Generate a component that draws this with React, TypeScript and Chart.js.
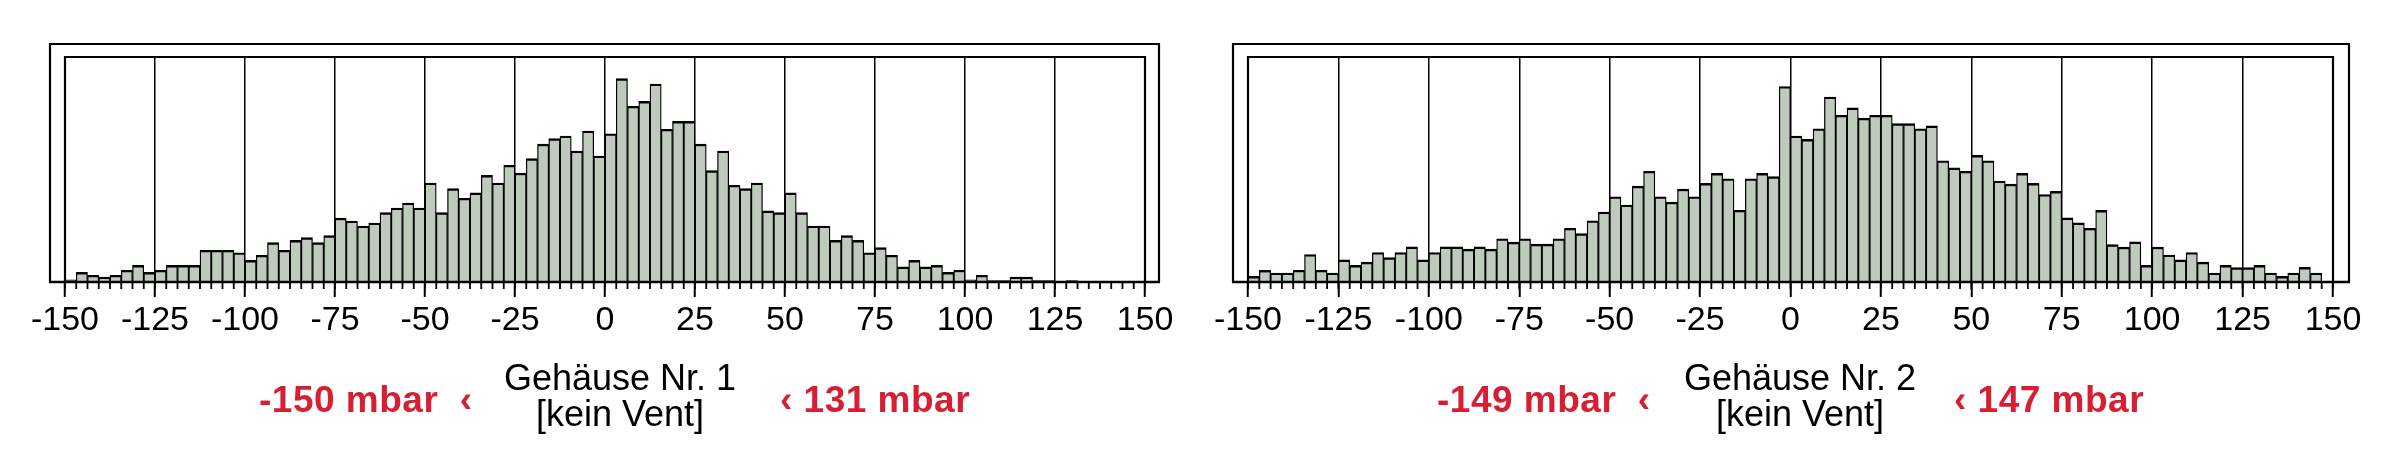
import React, { useEffect, useRef } from "react";
import { Chart, registerables } from "chart.js";

Chart.register(...registerables);

// ---- data -------------------------------------------------------------
const BIN_START = -150; // mbar, left edge of first bin
const BIN_WIDTH = 3.125; // mbar per histogram bin
const X_MIN = -150;
const X_MAX = 150;
const TICK_STEP = 25;
const TICK_LABELS = ["-150", "-125", "-100", "-75", "-50", "-25", "0", "25", "50", "75", "100", "125", "150"];

// relative frequency per bin (plot height = 100)
const counts1 = [
  1, 4.3, 3, 2.2, 3, 5.2, 7.4, 4.3, 5.2, 7.4, 7.4, 7.4, 14.1, 14.1, 14.1, 13,
  9.6, 11.9, 17.5, 14.1, 18.5, 19.7, 17.5, 20.6, 28.4, 27.1, 24.9, 26.2, 30.8, 32.9, 35.1, 32.9,
  44, 30.8, 41.5, 37.2, 39.6, 47.4, 44, 51.9, 48.4, 54.8, 61.3, 63.7, 64.9, 58.2, 67.1, 56,
  65.9, 90.4, 78.1, 80.3, 88, 67.9, 71.4, 71.4, 61.3, 49.5, 58.2, 43, 41.5, 44, 31.6, 30.8,
  39.6, 30.8, 24.9, 24.9, 18.5, 20.6, 18.5, 13, 15.3, 11.9, 6.7, 9.6, 6.7, 7.4, 4.3, 5.3,
  1, 3, 0.6, 0.6, 2.2, 2.2, 0.6, 0.6, 0, 0.6,
];

const counts2 = [
  2.5, 5.2, 4, 4, 5.2, 12.2, 5.2, 4, 9.8, 7.4, 8.8, 13.1, 10.8, 13.1, 15.6, 9.8,
  13.1, 15.6, 15.6, 14.6, 15.6, 14.6, 19.2, 17.7, 19.2, 16.8, 16.8, 19.2, 23.9, 21.5, 27.2, 31.1,
  37.9, 34.2, 42.6, 49.2, 37.9, 35.5, 41.3, 37.9, 43.8, 48.3, 45.9, 31.9, 45.9, 48.3, 46.8, 86.9,
  64.9, 63.4, 68.1, 82.2, 74.1, 77.4, 72.8, 74.1, 74.1, 70.4, 70.4, 68.1, 69.4, 53.9, 50.7, 49.2,
  56.3, 53.9, 44.9, 43.5, 48.3, 43.8, 38.9, 40.3, 28.5, 26.3, 23.9, 31.8, 16.6, 15.5, 17.8, 7.4,
  15.5, 12, 9.8, 13.1, 8.8, 4, 7.4, 6.4, 6.4, 7.4, 4, 2.5, 4, 6.5, 4,
];

const titles1 = ["Gehäuse Nr. 1", "[kein Vent]"];
const titles2 = ["Gehäuse Nr. 2", "[kein Vent]"];
const range1 = ["-150 mbar  ‹", "‹ 131 mbar"];
const range2 = ["-149 mbar  ‹", "‹ 147 mbar"];

// ---- styles -----------------------------------------------------------
const FONT = "'Liberation Sans', Arial, sans-serif";
const BAR_FILL = "#bdcabc";
const RED = "#d81e32";

type PanelCfg = {
  counts: number[];
  padLeft: number;
  padRight: number;
  outer: { left: number; right: number; top: number };
};

const framePlugin = {
  id: "histFrame",
  afterDatasetsDraw(chart: any, _args: any, opts: any) {
    const { ctx, chartArea: a } = chart;
    const x = chart.scales.x;
    ctx.save();
    ctx.strokeStyle = "#000";
    ctx.lineWidth = 2.2;
    // inner frame (plot box)
    ctx.beginPath();
    ctx.moveTo(a.left, a.bottom);
    ctx.lineTo(a.left, a.top);
    ctx.lineTo(a.right, a.top);
    ctx.lineTo(a.right, a.bottom);
    ctx.stroke();
    // outer frame
    const ol = a.left - opts.left;
    const or = a.right + opts.right;
    const ot = a.top - opts.top;
    ctx.beginPath();
    ctx.moveTo(ol, a.bottom);
    ctx.lineTo(ol, ot);
    ctx.lineTo(or, ot);
    ctx.lineTo(or, a.bottom);
    ctx.stroke();
    // baseline
    ctx.lineWidth = 2.6;
    ctx.beginPath();
    ctx.moveTo(ol - 1, a.bottom);
    ctx.lineTo(or + 1, a.bottom);
    ctx.stroke();
    // minor ticks on every bin edge
    ctx.lineWidth = 1.8;
    ctx.beginPath();
    for (let v = x.min; v <= x.max + 1e-9; v += BIN_WIDTH) {
      const px = x.getPixelForValue(v);
      ctx.moveTo(px, a.bottom);
      ctx.lineTo(px, a.bottom + 7);
    }
    ctx.stroke();
    ctx.restore();
  },
};

function Histogram({ cfg }: { cfg: PanelCfg }) {
  const ref = useRef<HTMLCanvasElement | null>(null);
  useEffect(() => {
    if (!ref.current) return;
    const points = cfg.counts.map((c, i) => ({ x: BIN_START + BIN_WIDTH * (i + 0.5), y: c }));
    const chart = new Chart(ref.current, {
      type: "bar",
      data: {
        datasets: [
          {
            data: points as any,
            backgroundColor: BAR_FILL,
            borderColor: "#000",
            borderWidth: { top: 2.4, left: 1.3, right: 1.3, bottom: 0 } as any,
            borderSkipped: false,
            barPercentage: 1,
            categoryPercentage: 1,
          },
        ],
      },
      options: {
        animation: false,
        responsive: false,
        maintainAspectRatio: false,
        events: [],
        layout: { padding: { left: cfg.padLeft, right: cfg.padRight, top: 57, bottom: 0 } },
        plugins: {
          legend: { display: false },
          tooltip: { enabled: false },
          histFrame: cfg.outer,
        } as any,
        scales: {
          x: {
            type: "linear",
            min: X_MIN,
            max: X_MAX,
            offset: false,
            afterFit: (s: any) => {
              s.height = 172;
            },
            ticks: {
              stepSize: TICK_STEP,
              autoSkip: false,
              maxRotation: 0,
              minRotation: 0,
              padding: 3,
              color: "#000",
              font: { family: FONT, size: 34 },
              callback: (_v: any, i: number) => TICK_LABELS[i],
            },
            grid: {
              offset: false,
              color: "#000",
              lineWidth: 1.5,
              drawTicks: true,
              tickLength: 15,
              tickWidth: 2,
              tickColor: "#000",
            },
            border: { display: false },
          },
          y: { display: false, min: 0, max: 100 },
        },
      },
      plugins: [framePlugin],
    });
    return () => chart.destroy();
  }, [cfg]);
  return <canvas ref={ref} width={1200} height={454} style={{ width: 1200, height: 454, display: "block" }} />;
}

const panel1: PanelCfg = { counts: counts1, padLeft: 65, padRight: 55, outer: { left: 15, right: 14, top: 13 } };
const panel2: PanelCfg = { counts: counts2, padLeft: 48, padRight: 67, outer: { left: 15, right: 16, top: 13 } };

function Caption({ center, lines }: { center: number; lines: string[] }) {
  return (
    <div
      style={{
        position: "absolute",
        left: center,
        top: 360,
        transform: "translateX(-50%)",
        textAlign: "center",
        font: `36px ${FONT}`,
        lineHeight: "36px",
        color: "#000",
        whiteSpace: "nowrap",
      }}
    >
      {lines.map((l, i) => (
        <div key={i}>{l}</div>
      ))}
    </div>
  );
}

function RedLabel({ left, text }: { left: number; text: string }) {
  return (
    <div
      style={{
        position: "absolute",
        left,
        top: 381,
        font: `bold 37px ${FONT}`,
        lineHeight: "37px",
        letterSpacing: "0.5px",
        color: RED,
        whiteSpace: "pre",
      }}
    >
      {text}
    </div>
  );
}

export default function App() {
  return (
    <div style={{ position: "absolute", left: 0, top: 0, width: 2400, height: 454, background: "#fff", overflow: "hidden" }}>
      <div style={{ position: "absolute", left: 0, top: 0 }}>
        <Histogram cfg={panel1} />
      </div>
      <div style={{ position: "absolute", left: 1200, top: 0 }}>
        <Histogram cfg={panel2} />
      </div>
      <Caption center={620} lines={titles1} />
      <RedLabel left={259} text={range1[0]} />
      <RedLabel left={780} text={range1[1]} />
      <Caption center={1800} lines={titles2} />
      <RedLabel left={1437} text={range2[0]} />
      <RedLabel left={1954} text={range2[1]} />
    </div>
  );
}
